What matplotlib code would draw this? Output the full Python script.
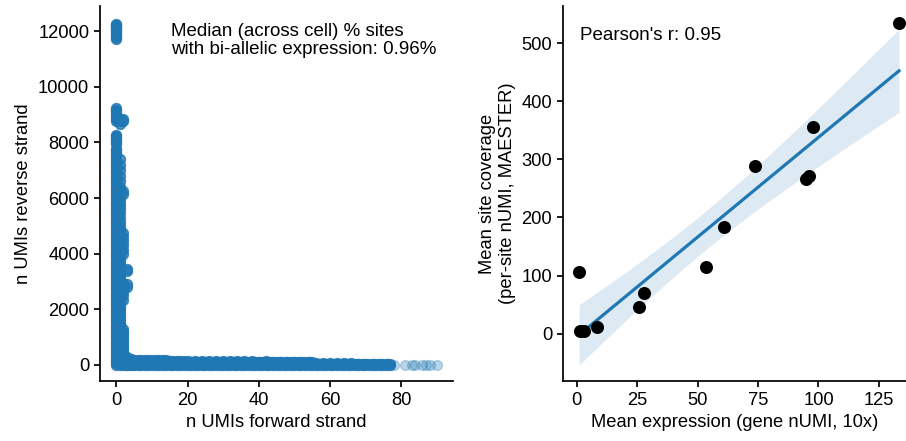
import numpy as np
import matplotlib
matplotlib.use("Agg")
import matplotlib.pyplot as plt

plt.rcParams['font.family'] = ['Liberation Sans', 'DejaVu Sans']
plt.rcParams['font.size'] = 13.2

# ---------------- Left panel data: UMIs per strand per site ----------------
# reverse-strand UMIs at sites with 0 forward UMIs
fwd0_rev = [0, 70, 150, 230, 310, 390, 470, 550, 640, 720, 800, 880, 960, 1040,
            1130, 1210, 1290, 1370, 1450, 1530, 1620, 1700, 1780, 1860, 1950, 2030,
            2110, 2190, 2270, 2350, 2440, 2520, 2600, 2680, 2760, 2840, 2930, 3010,
            3090, 3170, 3250, 3330, 3420, 3500, 3580, 3660, 3750, 3830, 3910, 3990,
            4070, 4150, 4240, 4320, 4400, 4480, 4560, 4640, 4730, 4810, 4890, 4970,
            5050, 5130, 5220, 5300, 5380, 5460, 5540, 5620, 5710, 5790, 5870, 5950,
            6040, 6120, 6200, 6280, 6360, 6440, 6530, 6610, 6690, 6770, 6850, 6930,
            7020, 7100, 7180, 7260, 7340, 7420, 7510, 7580, 7650, 7710, 7760,
            7950, 8000, 8080, 8150, 8220, 8250,
            8780, 8850, 8900, 8980, 9050, 9120, 9180, 9220,
            11720, 11780, 11830, 11890, 11940, 12000, 12050, 12100, 12150, 12200,
            12230, 12260]
# reverse-strand UMIs at sites with 1 forward UMI
fwd1_rev = [0, 100, 200, 300, 400, 500, 600, 700, 800, 900, 1000, 1100, 1200, 1300,
            1400, 1500, 1600, 1700, 1800, 1900, 2000, 2100, 2200, 2300, 2400, 2500,
            2600, 2700, 2800, 2900, 3000, 3100, 3200, 3300, 3400, 3500, 3600, 3700,
            3800, 3900, 4000, 4100, 4200, 4300, 4400, 4500, 4600, 4700, 4800, 4900,
            5000, 5150, 5300, 5450, 5600, 5750, 5900, 6050, 6200, 6400, 6600, 6800,
            7000, 7200, 7400, 8650, 8750, 8850]
# reverse-strand UMIs at sites with 2 forward UMIs
fwd2_rev = [0, 100, 200, 300, 400, 500, 600, 700, 800, 900, 1000, 1100, 1200, 1300,
            2350, 2500, 2650, 2800, 2950, 4000, 4150, 4300, 4450, 4600, 4750,
            6150, 6250, 8750, 8850]
# reverse-strand UMIs at sites with 3 forward UMIs
fwd3_rev = [0, 100, 200, 300, 2800, 2900, 3380, 3440]

# forward-strand UMIs at sites with ~0 reverse UMIs
rev0_fwd = [3, 4, 5, 6, 7, 8, 9, 10, 11, 12, 13, 14, 15, 16, 17, 18, 19, 20, 21, 22,
            23, 24, 25, 26, 27, 28, 29, 30, 31, 32, 33, 34, 35, 36, 37, 38, 39, 40,
            41, 42, 43, 44, 45, 46, 47, 48, 49, 50, 51, 52, 53, 54, 55, 56, 57, 58,
            59, 60, 61, 62, 63, 64, 65, 66, 67, 68, 69, 70, 71, 72, 73, 74, 75, 76, 77]
# sparse high-forward sites
tail_fwd = [78, 81, 83, 84, 86, 87, 88, 90]
# upper edge of the forward band: (forward UMIs, reverse UMIs)
edge_fwd = [4, 5, 6, 7, 8, 9, 10, 11, 12, 13, 14, 15, 16, 17, 18, 19, 20, 22, 24, 26,
            28, 30, 32, 34, 36, 38, 40, 42, 44, 46, 48, 50, 52, 54, 56, 58, 60, 62,
            64, 66, 68, 70, 72, 74, 76]
edge_rev = [200, 190, 185, 180, 185, 175, 175, 170, 170, 165, 165, 160, 160, 160, 155,
            155, 150, 150, 145, 140, 140, 150, 145, 140, 135, 130, 125, 130, 120, 120,
            115, 110, 110, 105, 80, 70, 60, 60, 55, 55, 50, 45, 40, 40, 30]
band_rev = [40, 90]   # reverse UMIs filling the band body
sites_per_point = 4

# ---------------- Right panel data ----------------
mean_expr = [0.95, 1.4, 3.0, 8.5, 25.6, 27.8, 53.3, 61.0, 73.7, 95.0, 96.0, 97.6, 133.3]
mean_cov = [106.8, 4.0, 4.6, 11.0, 45.4, 69.5, 115.0, 184.0, 288.0, 266.0, 272.0, 355.0, 534.0]
pearson_text = "Pearson's r: 0.95"
median_text = "Median (across cell) % sites\nwith bi-allelic expression: 0.96%"

# ---------------- assemble left scatter ----------------
xs, ys = [], []
for fx, lst in [(0, fwd0_rev), (1, fwd1_rev), (2, fwd2_rev), (3, fwd3_rev)]:
    xs += [fx] * len(lst)
    ys += lst
xs += rev0_fwd; ys += [0] * len(rev0_fwd)
for b in band_rev:
    for f in rev0_fwd:
        if f < 56 or b < 50:
            xs.append(f); ys.append(b)
xs += edge_fwd; ys += edge_rev
core_x = np.repeat(np.array(xs, float), sites_per_point)
core_y = np.repeat(np.array(ys, float), sites_per_point)

fig = plt.figure(figsize=(9.06, 4.41), dpi=100)
ax1 = fig.add_axes([100/906, 1-381/441, 353/906, 375/441])
ax2 = fig.add_axes([563/906, 1-381/441, 343/906, 375/441])

c0 = '#1f77b4'
ax1.scatter(core_x, core_y, s=50, facecolor=c0, edgecolor=c0, alpha=0.3, linewidths=1)
ax1.scatter(tail_fwd, [0] * len(tail_fwd), s=50, facecolor=c0, edgecolor=c0,
            alpha=0.3, linewidths=1)
ax1.set_xlim(-4.6, 94.6)
ax1.set_ylim(-575, 12900)
ax1.set_xticks([0, 20, 40, 60, 80])
ax1.set_yticks([0, 2000, 4000, 6000, 8000, 10000, 12000])
ax1.set_xlabel("n UMIs forward strand")
ax1.set_ylabel("n UMIs reverse strand")
ax1.text(0.2, 0.955, median_text, transform=ax1.transAxes, va='top', ha='left',
         fontsize=13.5, linespacing=1.1)

# ---------------- right: regression ----------------
x = np.array(mean_expr); y = np.array(mean_cov)
slope, intercept = np.polyfit(x, y, 1)
grid = np.linspace(x.min(), x.max(), 100)
yhat = intercept + slope * grid
resid = y - (intercept + slope * x)
n = len(x)
s_err = np.sqrt(np.sum(resid ** 2) / (n - 2))
t_crit = 2.201
half = t_crit * s_err * np.sqrt(1 / n + (grid - x.mean()) ** 2 / np.sum((x - x.mean()) ** 2))
ax2.fill_between(grid, yhat - half, yhat + half, color=c0, alpha=0.15, linewidth=0)
ax2.plot(grid, yhat, color=c0, lw=2.3)
ax2.scatter(x, y, s=88, color='black', zorder=3, linewidths=0)
ax2.set_xlim(-5.7, 136.2)
ax2.set_ylim(-81.5, 564)
ax2.set_xticks([0, 25, 50, 75, 100, 125])
ax2.set_yticks([0, 100, 200, 300, 400, 500])
ax2.set_xlabel("Mean expression (gene nUMI, 10x)")
ax2.set_ylabel("Mean site coverage\n(per-site nUMI, MAESTER)")
ax2.text(0.05, 0.945, pearson_text, transform=ax2.transAxes, va='top', ha='left',
         fontsize=13.5)

for ax in (ax1, ax2):
    ax.spines['top'].set_visible(False)
    ax.spines['right'].set_visible(False)
    for sp in ax.spines.values():
        sp.set_linewidth(1.25)
    ax.tick_params(width=1.25, length=4.3, labelsize=13.2, colors='black')

fig.savefig("out.png", dpi=100)
